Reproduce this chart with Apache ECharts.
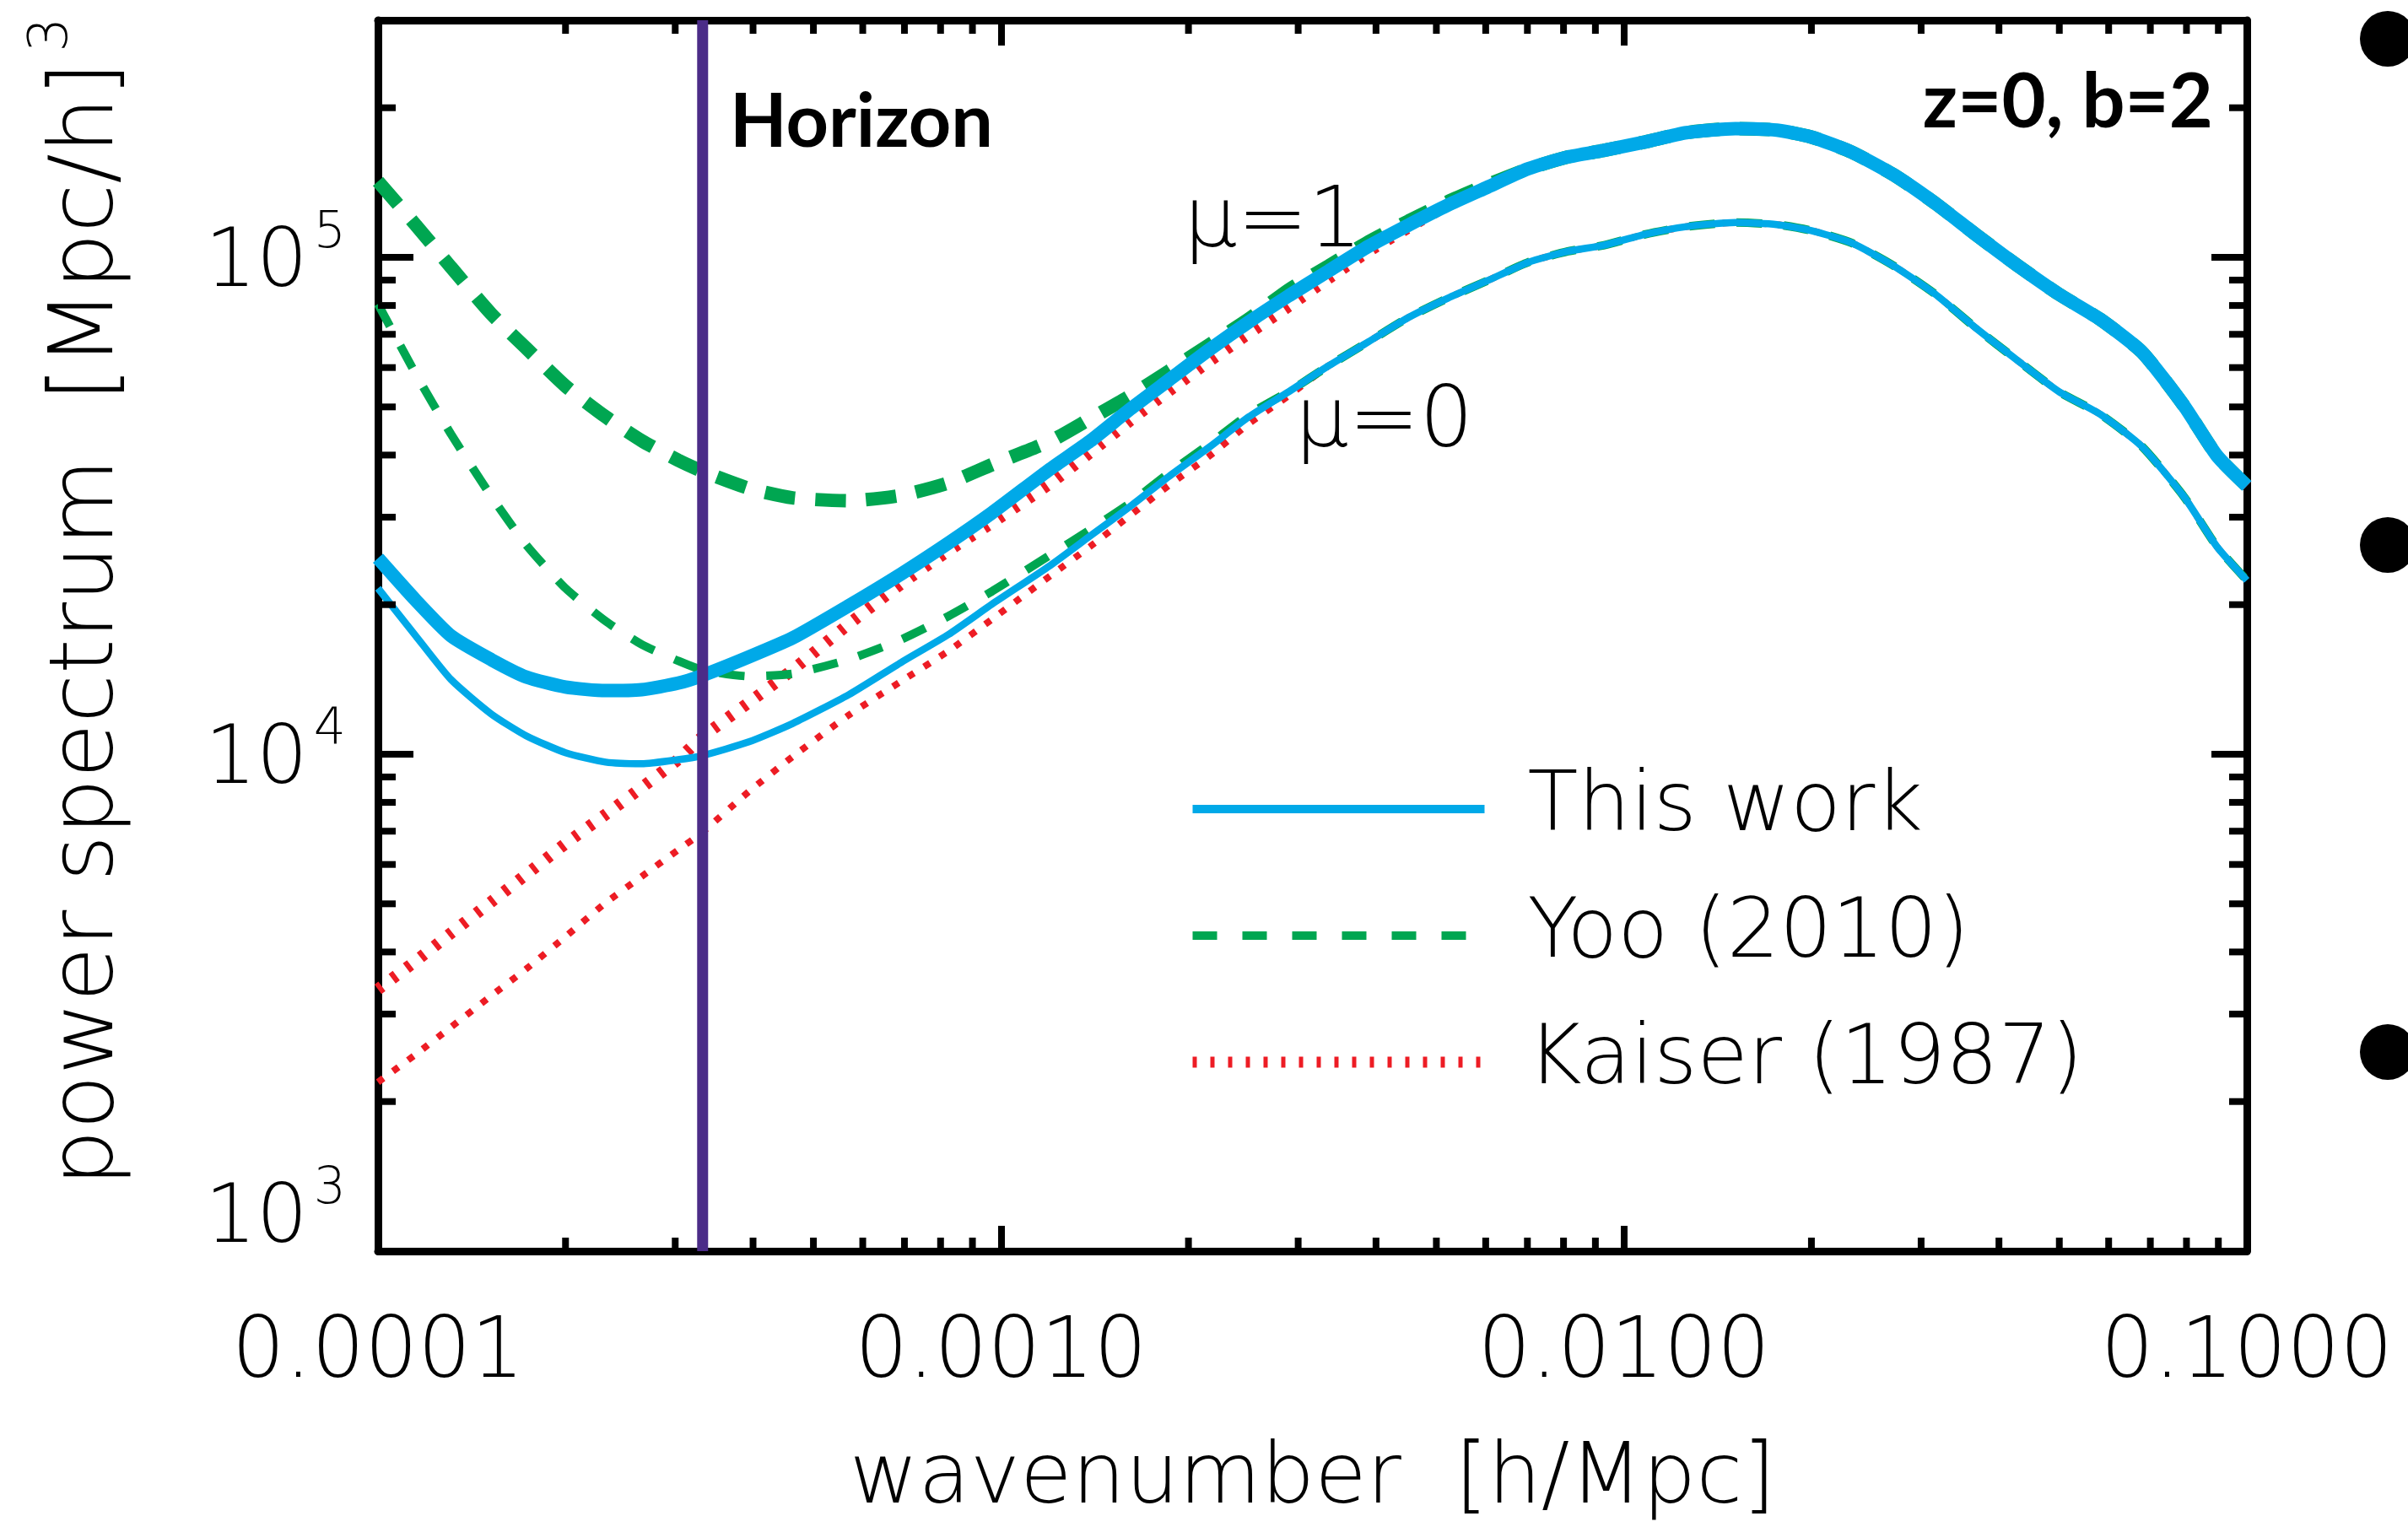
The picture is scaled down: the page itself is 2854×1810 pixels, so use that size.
<!DOCTYPE html>
<html>
<head>
<meta charset="utf-8">
<script src="https://cdn.jsdelivr.net/npm/echarts@6/dist/echarts.min.js"></script>
<style>
  html, body { margin: 0; padding: 0; background: #ffffff; }
  #chart { width: 2854px; height: 1810px; }
</style>
</head>
<body>
<div id="chart"></div>
<script>
// Wavenumber grid k [h/Mpc] shared by all curves
const kGrid = [
  1.00e-4, 1.15e-4, 1.31e-4, 1.52e-4, 1.73e-4, 2.00e-4, 2.32e-4, 2.65e-4, 3.03e-4, 3.31e-4,
  3.94e-4, 4.63e-4, 5.70e-4, 6.92e-4, 8.24e-4, 9.68e-4, 1.20e-3, 1.39e-3, 1.61e-3, 1.86e-3,
  2.16e-3, 2.50e-3, 2.90e-3, 3.36e-3, 3.89e-3, 4.51e-3, 5.22e-3, 6.04e-3, 7.02e-3, 8.13e-3,
  9.27e-3, 1.08e-2, 1.26e-2, 1.51e-2, 1.76e-2, 2.00e-2, 2.32e-2, 2.71e-2, 3.16e-2, 3.67e-2,
  4.29e-2, 4.99e-2, 5.82e-2, 6.79e-2, 7.93e-2, 8.95e-2, 1.00e-1
];

// Power spectrum [(Mpc/h)^3], this work
const thisWorkMu1 = [
  24800, 20400, 17300, 15500, 14300, 13650, 13430, 13490, 13900, 14390,
  15700, 17140, 19910, 23070, 26610, 30620, 37500, 42660, 49430, 56620,
  65160, 74130, 83750, 93970, 105200, 116100, 127400, 138400, 150700, 159200,
  164100, 170600, 178200, 181600, 180300, 174600, 162900, 146600, 128500, 111200,
  96160, 84330, 74990, 64420, 50230, 39900, 34670
];
const thisWorkMu0 = [
  21580, 17300, 14130, 12050, 10890, 10070, 9640, 9570, 9750, 9930,
  10590, 11530, 13180, 15310, 17420, 20050, 23990, 27480, 31480, 36220,
  41500, 47750, 53700, 60530, 67610, 75680, 82800, 89740, 97720, 102800,
  105700, 111200, 115300, 117500, 116400, 113200, 106900, 96160, 84330, 72110,
  61940, 53700, 48310, 41590, 32960, 26180, 22390
];

// Yoo (2010)
const yooMu1 = [
  142200, 116100, 95500, 76910, 65610, 55080, 47750, 42760, 39080, 37150,
  34280, 32810, 32360, 33190, 35160, 38280, 42660, 47320, 52600, 59020,
  66680, 75160, 86100, 96160, 107400, 118300, 129400, 140000, 150700, 159200,
  164100, 170600, 178200, 181600, 180300, 174600, 162900, 146600, 128500, 111200,
  96160, 84330, 74990, 64420, 50230, 39900, 34670
];
const yooMu0 = [
  80540, 58210, 44060, 33040, 26360, 21580, 18530, 16630, 15420, 14790,
  14350, 14520, 15520, 17020, 18970, 21280, 25180, 28310, 31990, 36810,
  42070, 48310, 53700, 60530, 67610, 75680, 82800, 89740, 97720, 102800,
  105700, 111200, 115300, 117500, 116400, 113200, 106900, 96160, 84330, 72110,
  61940, 53700, 48310, 41590, 32960, 26180, 22390
];

// Kaiser (1987)
const kaiserMu1 = [
  3365, 3837, 4365, 5047, 5728, 6607, 7568, 8570, 9750, 10810,
  12710, 14790, 18280, 22030, 25700, 29240, 35080, 40460, 46880, 53830,
  61800, 70310, 79800, 90780, 102800, 114800, 127400, 138400, 150700, 159200,
  164100, 170600, 178200, 181600, 180300, 174600, 162900, 146600, 128500, 111200,
  96160, 84330, 74990, 64420, 50230, 39900, 34670
];
const kaiserMu0 = [
  2188, 2489, 2825, 3266, 3698, 4295, 5023, 5675, 6412, 6950,
  8414, 9886, 11990, 14030, 16140, 18700, 22860, 26180, 30200, 34750,
  39810, 46240, 52720, 60530, 67610, 75680, 82800, 89740, 97720, 102800,
  105700, 111200, 115300, 117500, 116400, 113200, 106900, 96160, 84330, 72110,
  61940, 53700, 48310, 41590, 32960, 26180, 22390
];

// Horizon scale [h/Mpc]
const horizonK = 3.32e-4;

// Axis ranges
const xRange = [1e-4, 1e-1];
const yRange = [1e3, 3e5];

// Legend entries
const legendNames = ['This work', 'Yoo (2010)', 'Kaiser (1987)'];

// Minor tick positions (2..9 within each decade)
const minorX = [];
for (let d = -4; d < -1; d++) for (let m = 2; m <= 9; m++) minorX.push(m * Math.pow(10, d));
const minorY = [];
for (let d = 3; d < 6; d++) for (let m = 2; m <= 9; m++) {
  const v = m * Math.pow(10, d);
  if (v < yRange[1]) minorY.push(v);
}

const FONT = 'DejaVu Sans';
const BLUE = '#00a9e8';
const GREEN = '#00a651';
const RED = '#ed1c24';
const PURPLE = '#4b2c88';

function pairs(vals) { return kGrid.map((k, i) => [k, vals[i]]); }

function curve(name, vals, color, width, type, z) {
  return {
    name: name, type: 'line', data: pairs(vals), symbol: 'none', smooth: 0.2,
    lineStyle: { color: color, width: width, type: type, cap: 'butt' },
    itemStyle: { color: color }, z: z, silent: true
  };
}

const chart = echarts.init(document.getElementById('chart'), null, { renderer: 'canvas' });

const axisLineStyle = { color: '#000', width: 9 };
const hidden = { opacity: 0 };

const option = {
  animation: false,
  backgroundColor: '#ffffff',
  grid: { left: 448, right: 191, top: 24, bottom: 321, containLabel: false },
  legend: {
    orient: 'vertical', left: 1402, top: 904, itemGap: 50, itemWidth: 346, itemHeight: 14,
    selectedMode: false,
    textStyle: { fontFamily: FONT, fontWeight: 200, fontSize: 98, color: '#000', lineHeight: 100, padding: [0, 0, 0, 46] },
    data: [
      { name: legendNames[0], itemStyle: hidden, lineStyle: { width: 10, type: 'solid', color: BLUE } },
      { name: legendNames[1], itemStyle: hidden, lineStyle: { width: 10, type: [29, 30], color: GREEN } },
      { name: legendNames[2], itemStyle: hidden, lineStyle: { width: 13, type: [5, 16], color: RED } }
    ]
  },
  xAxis: [
    {
      type: 'log', logBase: 10, min: xRange[0], max: xRange[1], position: 'bottom',
      axisLine: { show: true, onZero: false, lineStyle: axisLineStyle },
      axisTick: { show: true, inside: true, length: 30, lineStyle: { color: '#000', width: 8 } },
      axisLabel: {
        formatter: v => v.toFixed(4), fontFamily: FONT, fontWeight: 200, fontSize: 99,
        color: '#000', margin: 74
      },
      splitLine: { show: false },
      name: 'wavenumber  [h/Mpc]', nameLocation: 'middle', nameGap: 222,
      nameTextStyle: { fontFamily: FONT, fontWeight: 200, fontSize: 100, color: '#000' }
    },
    {
      type: 'log', logBase: 10, min: xRange[0], max: xRange[1], position: 'top',
      axisLine: { show: true, onZero: false, lineStyle: axisLineStyle },
      axisTick: { show: true, inside: true, length: 30, lineStyle: { color: '#000', width: 8 } },
      axisLabel: { show: false }, splitLine: { show: false }
    }
  ],
  yAxis: [
    {
      type: 'log', logBase: 10, min: yRange[0], max: yRange[1], position: 'left',
      axisLine: { show: true, onZero: false, lineStyle: axisLineStyle },
      axisTick: { show: true, inside: true, length: 42, lineStyle: { color: '#000', width: 8 } },
      axisLabel: {
        margin: 38,
        formatter: v => {
          const e = Math.log10(v), r = Math.round(e);
          if (Math.abs(e - r) > 1e-6) return '';
          // the lowest label sits just above the bottom axis
          return r === 3 ? '{mb|10}{s|' + r + '}' : '{m|10}{s|' + r + '}';
        },
        rich: {
          m: { fontFamily: FONT, fontWeight: 200, fontSize: 96, color: '#000', verticalAlign: 'top', padding: [19, 0, 0, 0] },
          mb: { fontFamily: FONT, fontWeight: 200, fontSize: 96, color: '#000', verticalAlign: 'top', padding: [19, 0, 90, 0] },
          s: { fontFamily: FONT, fontWeight: 200, fontSize: 60, color: '#000', verticalAlign: 'top', padding: [0, 0, 0, 7] }
        }
      },
      splitLine: { show: false },
      name: '{t|power spectrum  [Mpc/h]}{s|3}', nameLocation: 'middle', nameGap: 290,
      nameTextStyle: {
        rich: {
          t: { fontFamily: FONT, fontWeight: 200, fontSize: 106, color: '#000', verticalAlign: 'top', padding: [22, 0, 0, 80] },
          s: { fontFamily: FONT, fontWeight: 200, fontSize: 64, color: '#000', verticalAlign: 'top', padding: [0, 0, 0, 12] }
        }
      }
    },
    {
      type: 'log', logBase: 10, min: yRange[0], max: yRange[1], position: 'right',
      axisLine: { show: true, onZero: false, lineStyle: axisLineStyle },
      axisTick: { show: true, inside: true, length: 42, lineStyle: { color: '#000', width: 8 } },
      axisLabel: { show: false }, splitLine: { show: false }
    }
  ],
  series: [
    curve(legendNames[2], kaiserMu1, RED, 14, [6, 15], 2),
    curve(legendNames[2], kaiserMu0, RED, 8, [8, 14], 2),
    curve(legendNames[1], yooMu1, GREEN, 16, [36, 24], 3),
    curve(legendNames[1], yooMu0, GREEN, 10, [30, 26], 3),
    curve(legendNames[0], thisWorkMu1, BLUE, 16, 'solid', 4),
    curve(legendNames[0], thisWorkMu0, BLUE, 8.5, 'solid', 4),
    {
      name: 'Horizon', type: 'line', symbol: 'none', silent: true, z: 6,
      data: [[horizonK, yRange[0]], [horizonK, yRange[1]]],
      lineStyle: { color: PURPLE, width: 13, cap: 'butt' }
    },
    {
      // minor ticks on bottom and top axes
      type: 'custom', coordinateSystem: 'cartesian2d', silent: true, z: 7, clip: false,
      data: minorX.map(v => [v, yRange[0]]),
      renderItem: (params, api) => {
        const b = api.coord([api.value(0), yRange[0]]);
        const t = api.coord([api.value(0), yRange[1]]);
        return {
          type: 'group', children: [
            { type: 'line', shape: { x1: b[0], y1: b[1], x2: b[0], y2: b[1] - 16 }, style: { stroke: '#000', lineWidth: 8 } },
            { type: 'line', shape: { x1: t[0], y1: t[1], x2: t[0], y2: t[1] + 16 }, style: { stroke: '#000', lineWidth: 8 } }
          ]
        };
      }
    },
    {
      // minor ticks on left and right axes
      type: 'custom', coordinateSystem: 'cartesian2d', silent: true, z: 7, clip: false,
      data: minorY.map(v => [xRange[0], v]),
      renderItem: (params, api) => {
        const l = api.coord([xRange[0], api.value(1)]);
        const r = api.coord([xRange[1], api.value(1)]);
        return {
          type: 'group', children: [
            { type: 'line', shape: { x1: l[0], y1: l[1], x2: l[0] + 21, y2: l[1] }, style: { stroke: '#000', lineWidth: 8 } },
            { type: 'line', shape: { x1: r[0], y1: r[1], x2: r[0] - 21, y2: r[1] }, style: { stroke: '#000', lineWidth: 8 } }
          ]
        };
      }
    }
  ],
  graphic: [
    {
      type: 'text', x: 865, y: 146, z: 10,
      style: { text: 'Horizon', font: 'bold 88px Lato', fill: '#000', textAlign: 'left', textVerticalAlign: 'middle', align: 'left', verticalAlign: 'middle' }
    },
    {
      type: 'text', x: 2623, y: 122, z: 10,
      style: { text: 'z=0, b=2', font: 'bold 90px Lato', fill: '#000', textAlign: 'right', textVerticalAlign: 'middle', align: 'right', verticalAlign: 'middle' }
    },
    {
      type: 'text', x: 1403, y: 266, z: 10,
      style: { text: 'μ=1', font: '200 100px "DejaVu Sans"', fill: '#000', textAlign: 'left', textVerticalAlign: 'middle', align: 'left', verticalAlign: 'middle' }
    },
    {
      type: 'text', x: 1535, y: 503, z: 10,
      style: { text: 'μ=0', font: '200 100px "DejaVu Sans"', fill: '#000', textAlign: 'left', textVerticalAlign: 'middle', align: 'left', verticalAlign: 'middle' }
    },
    { type: 'circle', shape: { cx: 2830, cy: 46, r: 33 }, style: { fill: '#000' } },
    { type: 'circle', shape: { cx: 2830, cy: 646, r: 33 }, style: { fill: '#000' } },
    { type: 'circle', shape: { cx: 2830, cy: 1247, r: 33 }, style: { fill: '#000' } }
  ]
};

chart.setOption(option);
</script>
</body>
</html>
